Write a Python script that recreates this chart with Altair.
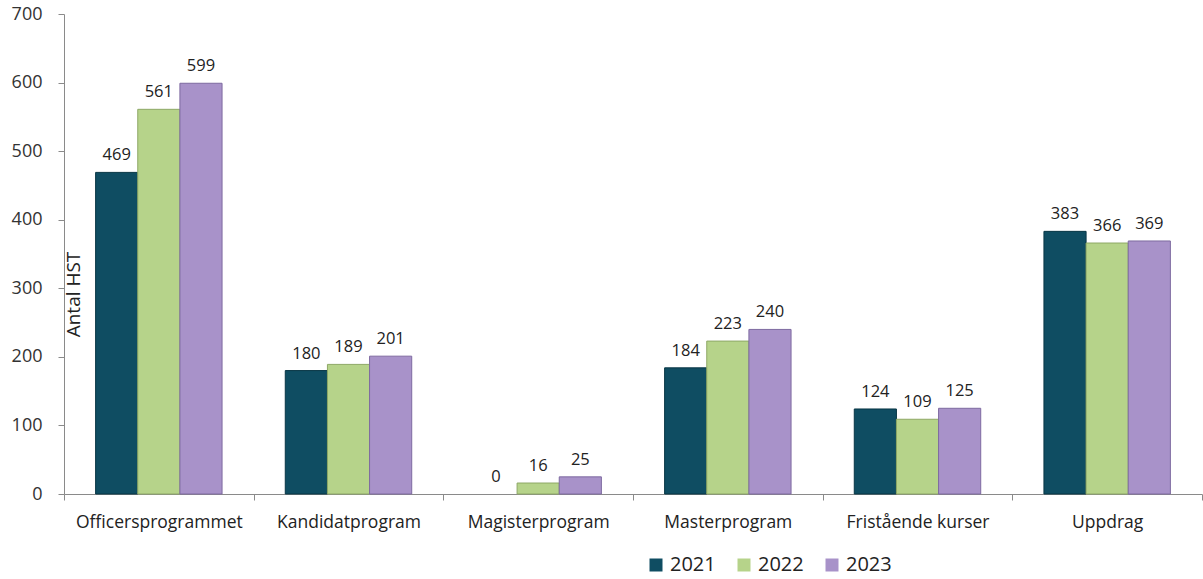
import altair as alt
import pandas as pd

categories = ["Officersprogrammet", "Kandidatprogram", "Magisterprogram",
              "Masterprogram", "Fristående kurser", "Uppdrag"]
years = ["2021", "2022", "2023"]
v2021 = [469, 180, 0, 184, 124, 383]
v2022 = [561, 189, 16, 223, 109, 366]
v2023 = [599, 201, 25, 240, 125, 369]

rows = []
for i, c in enumerate(categories):
    for y, vals in zip(years, [v2021, v2022, v2023]):
        rows.append({"kategori": c, "år": y, "värde": vals[i]})
df = pd.DataFrame(rows)

FONT = "Open Sans"
fills = ["#0f4d62", "#b6d38a", "#a892c9"]
strokes = ["#083645", "#8ea866", "#7e6aa0"]

xenc = alt.X("kategori:N", sort=categories, title=None,
             scale=alt.Scale(paddingInner=0, paddingOuter=0),
             axis=alt.Axis(labelAngle=0, labelFontSize=17.5, labelFont=FONT,
                           labelColor="#222222", labelPadding=13,
                           tickBand="extent", tickSize=6, tickColor="#8a8a8a",
                           domainColor="#8a8a8a", ticks=True))
xoff = alt.XOffset("år:N", sort=years,
                   scale=alt.Scale(paddingInner=0, paddingOuter=0.75))

base = alt.Chart(df)

bars = base.mark_bar(strokeWidth=1).encode(
    x=xenc,
    xOffset=xoff,
    y=alt.Y("värde:Q", title="Antal HST",
            scale=alt.Scale(domain=[0, 700], nice=False),
            axis=alt.Axis(values=list(range(0, 701, 100)), grid=False,
                          labelFontSize=18, labelFont=FONT, labelColor="#333333",
                          labelPadding=16, tickSize=6, tickColor="#8a8a8a",
                          domainColor="#8a8a8a",
                          titleFont=FONT, titleFontSize=19, titleFontWeight="normal",
                          titleColor="#222222", titleAngle=-90, titleX=19, titleY=280,
                          titleBaseline="bottom", titleAlign="center")),
    color=alt.Color("år:N", sort=years,
                    scale=alt.Scale(domain=years, range=fills),
                    legend=alt.Legend(title=None, orient="none", direction="horizontal",
                                      legendX=582, legendY=541, symbolType="square",
                                      symbolSize=169, symbolStrokeWidth=0,
                                      labelFont=FONT, labelFontSize=20,
                                      labelColor="#222222", columnPadding=18,
                                      symbolOffset=0, labelOffset=4, padding=0)),
    stroke=alt.Stroke("år:N", sort=years,
                      scale=alt.Scale(domain=years, range=strokes), legend=None),
    strokeOpacity=alt.condition("datum['värde'] > 0", alt.value(1), alt.value(0)),
)

labels = base.mark_text(baseline="alphabetic", dy=-12, font=FONT, fontSize=16.5,
                        color="#222222").encode(
    x=alt.X("kategori:N", sort=categories),
    xOffset=xoff,
    y="värde:Q",
    text="värde:Q",
)

chart = alt.layer(bars, labels).properties(
    width=1138, height=480,
    autosize=alt.AutoSizeParams(type="none"),
    padding={"left": 64, "top": 14, "right": 1, "bottom": 85},
    background="white",
).configure_view(stroke=None)

chart.save("out.html", embed_options={"renderer": "svg", "actions": False})
